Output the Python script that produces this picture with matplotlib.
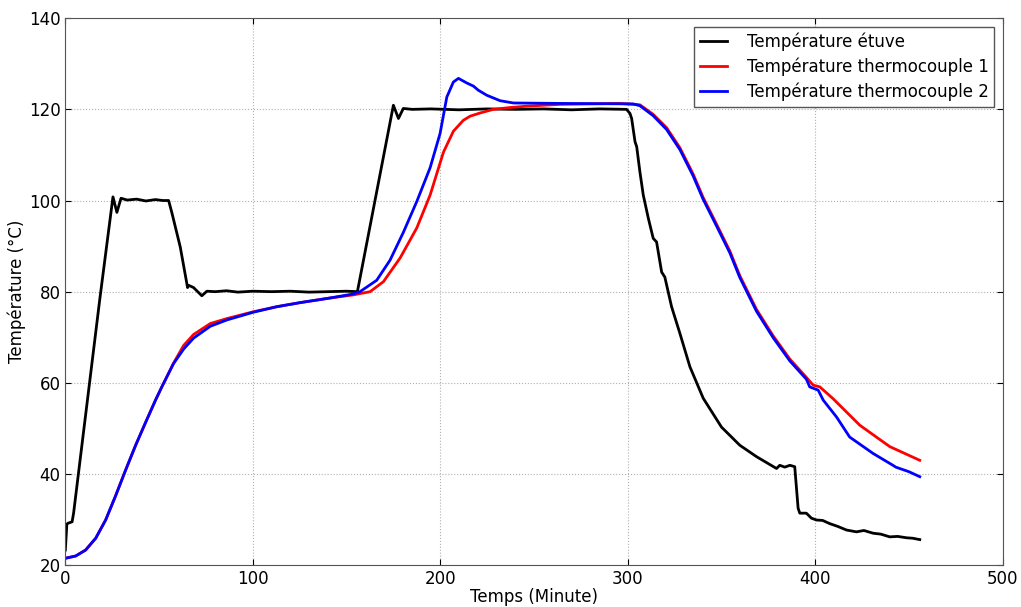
import numpy as np
import matplotlib
matplotlib.use("Agg")
import matplotlib.pyplot as plt

# Température étuve (black)
t_etuve = [0, 0.8, 1.5, 3.6, 4.4, 18.3, 25.4, 27.5, 29.7, 33, 38, 43, 48, 52, 55.1,
           56.9, 61.3, 64.5, 65.2, 65.7, 68.4, 72.8, 75.5, 80, 86, 92, 100, 110, 120,
           130, 140, 150, 155.8, 175, 177.7, 180.3, 185, 195, 210, 225, 240, 255,
           270, 285, 299.4, 301.2, 302.1, 303.9, 304.8, 306.5, 308.3, 311, 313.6,
           315.4, 318.1, 319.8, 323.4, 327.8, 333.2, 340.3, 350, 359.8, 368.7,
           379.4, 381.1, 383.8, 386.5, 389.1, 390.9, 391.8, 395.3, 398, 400.7, 404,
           407.8, 412, 416.7, 422, 426, 430.9, 435, 439.8, 444, 448.7, 452, 455.8]
T_etuve = [23.3, 29, 29.2, 29.5, 31.4, 78.1, 100.8, 97.4, 100.5, 100.1, 100.3, 99.9, 100.2, 100, 100,
           97.2, 89.8, 82.5, 80.9, 81.4, 80.9, 79.1, 80.1, 80, 80.2, 79.9, 80.1, 80, 80.1,
           79.9, 80, 80.1, 80, 120.9, 118, 120.2, 120, 120.1, 119.9, 120.1, 120, 120.1,
           119.9, 120.1, 120, 119.1, 118, 112.9, 111.8, 106.3, 101.2, 96.1, 91.7,
           90.9, 84.3, 83.2, 76.7, 70.9, 63.5, 56.6, 50.3, 46.3, 43.8,
           41.2, 41.9, 41.5, 41.9, 41.6, 32.5, 31.4, 31.4, 30.3, 29.9, 29.8,
           29.1, 28.5, 27.7, 27.3, 27.6, 27, 26.8, 26.2, 26.3, 26, 25.9, 25.6]

# Température thermocouple 1 (red)
t_tc1 = [0, 5.5, 10.8, 16.2, 21.5, 26.8, 32.1, 37.5, 42.8, 48.1, 51.7, 57.7, 63.1,
         68.4, 77.3, 86.2, 100.4, 112.8, 125.3, 139.5, 153.7, 162.6, 169.7, 178.6,
         187.5, 194.6, 201.7, 207, 212.3, 215.9, 221.2, 228.3, 237.2, 246.1, 263.9,
         295.8, 306.5, 313.6, 320.7, 327.8, 334.9, 340.2, 347.4, 354.5, 359.8,
         368.7, 377.6, 386.5, 395.3, 398.9, 402.5, 409.6, 423.8, 439.8, 455.8]
T_tc1 = [21.5, 22, 23.3, 25.9, 29.9, 35.2, 40.8, 46.3, 51.3, 56.2, 59.3, 64.3, 68.2,
         70.6, 73, 74.1, 75.6, 76.7, 77.6, 78.5, 79.3, 80, 82.2, 87.4,
         94, 101.2, 110.6, 115.2, 117.6, 118.5, 119.2, 120, 120.4, 120.7, 121.1,
         121.3, 121, 118.9, 116, 111.6, 105.8, 100.7, 94.8, 88.9, 83.5,
         76.1, 70.3, 65.2, 61.2, 59.5, 59.1, 56.5, 50.7, 46, 43]

# Température thermocouple 2 (blue)
t_tc2 = [0, 5.5, 10.8, 16.2, 21.5, 26.8, 32.1, 37.5, 42.8, 48.1, 51.7, 57.7, 63.1,
         68.4, 77.3, 86.2, 100.4, 112.8, 125.3, 139.5, 153.7, 157.2, 166.1, 173.2,
         180.3, 187.5, 194.6, 199.9, 203.5, 207, 209.7, 214.1, 217.7, 220.3, 224.8,
         231.9, 239, 263.9, 302.9, 306.5, 313.6, 320.7, 327.8, 334.9, 340.2, 347.4,
         354.5, 359.8, 368.7, 377.6, 386.5, 395.3, 397.1, 401.6, 404.3, 411.4,
         418.4, 430.9, 441.5, 443, 445.1, 450, 455.8]
T_tc2 = [21.5, 22, 23.3, 25.9, 29.9, 35.2, 40.8, 46.3, 51.3, 56.2, 59.3, 64.2, 67.4,
         69.8, 72.4, 73.8, 75.5, 76.7, 77.6, 78.5, 79.5, 80, 82.5, 86.9,
         93, 99.8, 107.2, 114.7, 122.7, 126, 126.8, 125.8, 125.1, 124.2, 123.1,
         121.9, 121.4, 121.3, 121.2, 120.8, 118.6, 115.6, 111.2, 105.4, 100.3, 94.4,
         88.5, 83.1, 75.7, 69.9, 64.8, 60.8, 59.1, 58.4, 56.2, 52.5,
         48.1, 44.5, 41.9, 41.5, 41.2, 40.5, 39.4]

fig = plt.figure(figsize=(10.21, 6.07), dpi=100)
ax = fig.add_axes([0.064, 0.069, 0.918, 0.901])

ax.plot(t_etuve, T_etuve, color='black', lw=2, label='Température étuve')
ax.plot(t_tc1, T_tc1, color='red', lw=2, label='Température thermocouple 1')
ax.plot(t_tc2, T_tc2, color='blue', lw=2, label='Température thermocouple 2')

ax.set_xlim(0, 500)
ax.set_ylim(20, 140)
ax.set_xticks(np.arange(0, 501, 100))
ax.set_yticks(np.arange(20, 141, 20))
ax.tick_params(direction='in', top=True, right=True, labelsize=12, length=4)
ax.grid(True, color='#b0b0b0', linestyle=':', linewidth=0.8)
for s in ax.spines.values():
    s.set_color('#555555')

ax.set_xlabel('Temps (Minute)', fontsize=12, labelpad=0)
ax.set_ylabel('Température (°C)', fontsize=12, labelpad=2)

leg = ax.legend(loc='upper right', fontsize=12, fancybox=False, framealpha=1,
                borderaxespad=0.5, borderpad=0.35, labelspacing=0.4,
                handlelength=1.6, handletextpad=1.2)
leg.get_frame().set_edgecolor('#555555')

fig.savefig('out.png', dpi=100)
